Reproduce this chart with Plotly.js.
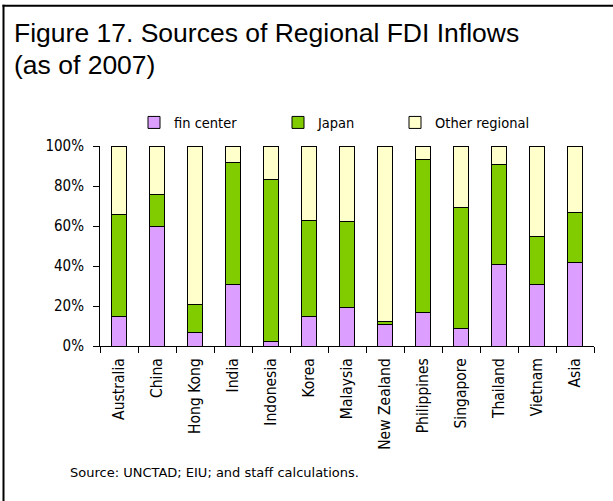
<!DOCTYPE html>
<html>
<head>
<meta charset="utf-8">
<script src="https://cdn.plot.ly/plotly-3.0.1.min.js"></script>
<style>
  html, body { margin: 0; padding: 0; background: #fff; }
  #chart { width: 613px; height: 501px; }
</style>
</head>
<body>
<div id="chart"></div>
<script>
// ---- data (percent shares) ----
const countries = ["Australia", "China", "Hong Kong", "India", "Indonesia", "Korea", "Malaysia",
                   "New Zealand", "Philippines", "Singapore", "Thailand", "Vietnam", "Asia"];
const finCenter = [15, 60, 7, 31, 2.5, 15, 19.5, 11, 17, 9, 41, 31, 42];
const japan     = [51, 16, 14, 61, 81, 48, 43, 1.5, 76.5, 60.5, 50, 24, 25];
const otherReg  = [34, 24, 79, 8, 16.5, 37, 37.5, 87.5, 6.5, 30.5, 9, 45, 33];
const seriesNames = ["fin center", "Japan", "Other regional"];
const yTickVals = [0, 20, 40, 60, 80, 100];
const yTickText = ["0%", "20%", "40%", "60%", "80%", "100%"];
const titleLines = ["Figure 17. Sources of Regional FDI Inflows", "(as of 2007)"];
const sourceNote = "Source: UNCTAD; EIU; and staff calculations.";

// ---- geometry helpers (pixel -> paper) ----
const W = 613, H = 501;
const M = { l: 100, r: 19, t: 146, b: 155 };
const PW = W - M.l - M.r, PH = H - M.t - M.b;
const px = x => (x - M.l) / PW;
const py = y => 1 - (y - M.t) / PH;

const FONT = "DejaVu Sans Condensed, DejaVu Sans, sans-serif";
const colors = ["#DC9EFF", "#80CC00", "#FFFFCC"];
const seriesVals = [finCenter, japan, otherReg];
const legendIds = ["legend", "legend2", "legend3"];

const traces = seriesVals.map((vals, i) => ({
  type: "bar",
  name: seriesNames[i],
  x: countries,
  y: vals,
  marker: { color: colors[i], line: { color: "#000000", width: 1 } },
  legend: legendIds[i],
  hoverinfo: "skip"
}));

const legendX = [134, 278, 395];
const legendCommon = {
  orientation: "h",
  xref: "paper", yref: "paper",
  xanchor: "left", yanchor: "middle",
  y: py(122.5),
  bgcolor: "rgba(0,0,0,0)",
  borderwidth: 0,
  font: { family: FONT, size: 14.5, color: "#000" },
  itemwidth: 30
};

const layout = {
  width: W, height: H,
  margin: M,
  paper_bgcolor: "#ffffff",
  plot_bgcolor: "#ffffff",
  barmode: "stack",
  bargap: 0.59,
  showlegend: true,
  legend:  Object.assign({}, legendCommon, { x: px(legendX[0]) }),
  legend2: Object.assign({}, legendCommon, { x: px(legendX[1]) }),
  legend3: Object.assign({}, legendCommon, { x: px(legendX[2]) }),
  xaxis: {
    type: "category",
    showgrid: false,
    showline: true, linecolor: "#000", linewidth: 1,
    ticks: "outside", ticklen: 6, tickcolor: "#000", tickwidth: 1,
    tickson: "boundaries",
    tickangle: -90,
    ticklabelstandoff: 5,
    tickfont: { family: FONT, size: 15.5, color: "#000" },
    zeroline: false,
    fixedrange: true
  },
  yaxis: {
    range: [0, 100],
    tickmode: "array",
    tickvals: yTickVals,
    ticktext: yTickText,
    showgrid: false,
    showline: true, linecolor: "#000", linewidth: 1,
    ticks: "outside", ticklen: 6, tickcolor: "#000", tickwidth: 1,
    ticklabelstandoff: 6,
    tickfont: { family: FONT, size: 15, color: "#000" },
    zeroline: false,
    fixedrange: true
  },
  annotations: [
    { text: titleLines[0], x: px(12), y: py(32.5), xref: "paper", yref: "paper",
      xanchor: "left", yanchor: "middle", showarrow: false,
      font: { family: "Liberation Sans, Arial, sans-serif", size: 26.5, color: "#000" } },
    { text: titleLines[1], x: px(12), y: py(64.5), xref: "paper", yref: "paper",
      xanchor: "left", yanchor: "middle", showarrow: false,
      font: { family: "Liberation Sans, Arial, sans-serif", size: 26.5, color: "#000" } },
    { text: sourceNote, x: px(68), y: py(472.5), xref: "paper", yref: "paper",
      xanchor: "left", yanchor: "middle", showarrow: false,
      font: { family: "DejaVu Sans, sans-serif", size: 13, color: "#000" } }
  ],
  shapes: [
    { type: "line", xref: "paper", yref: "paper", x0: px(2.5), x1: px(W + 10), y0: py(5.8), y1: py(5.8),
      line: { color: "#000", width: 2 } },
    { type: "line", xref: "paper", yref: "paper", x0: px(3.5), x1: px(3.5), y0: py(4.8), y1: py(H + 10),
      line: { color: "#000", width: 2 } }
  ]
};

Plotly.newPlot("chart", traces, layout, { staticPlot: true, displayModeBar: false });
</script>
</body>
</html>
